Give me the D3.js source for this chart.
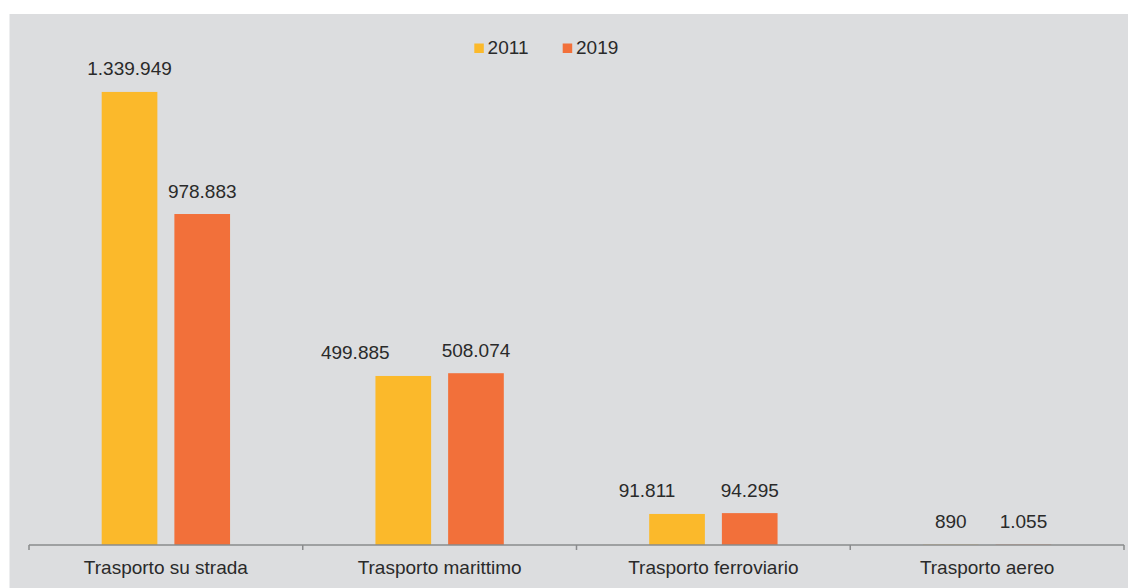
<!DOCTYPE html>
<html>
<head>
<meta charset="utf-8">
<script src="https://cdn.jsdelivr.net/npm/d3@7"></script>
<style>
  html, body { margin: 0; padding: 0; background: #ffffff; }
  svg { display: block; }
  text { font-family: "Liberation Sans", Arial, sans-serif; fill: #2a2a2a; }
</style>
</head>
<body>
<svg id="chart" width="1128" height="588"></svg>
<script>
// Categories and series
const categories = ["Trasporto su strada", "Trasporto marittimo", "Trasporto ferroviario", "Trasporto aereo"];
const seriesNames = ["2011", "2019"];
const values2011 = [1339949, 499885, 91811, 890];
const values2019 = [978883, 508074, 94295, 1055];

// Styling
const colors = { "2011": "#fbb92b", "2019": "#f2703a" };
const fontSize = 19;
// horizontal nudge of the 2011 value labels so they clear their neighbours
const labelShift2011 = [0, -48, -30, 0];

const fmt = v => d3.format(",")(v).replace(/,/g, ".");

const svg = d3.select("#chart");
const W = 1128, H = 588;

// panel background
svg.append("rect")
  .attr("x", 9.5).attr("y", 14)
  .attr("width", W - 9.5).attr("height", H - 14)
  .attr("fill", "#dcdddf");

const axisY = 545;
const x0 = d3.scaleBand().domain(categories).range([29, 1124]).paddingInner(0).paddingOuter(0);
const x1 = d3.scaleBand().domain(seriesNames).range([0, x0.bandwidth()]).paddingInner(0.234).paddingOuter(1.0);
const y = d3.scaleLinear().domain([0, 1600000]).range([axisY, 4]);

const rows = categories.map((c, i) => ({
  cat: c, i,
  vals: [
    { s: "2011", v: values2011[i], shift: labelShift2011[i] },
    { s: "2019", v: values2019[i], shift: 0 }
  ]
}));

const g = svg.append("g");
const groups = g.selectAll("g.cat").data(rows).join("g")
  .attr("class", "cat")
  .attr("transform", d => `translate(${x0(d.cat)},0)`);

groups.selectAll("rect").data(d => d.vals).join("rect")
  .attr("x", d => x1(d.s))
  .attr("width", x1.bandwidth())
  .attr("y", d => y(d.v))
  .attr("height", d => axisY - y(d.v))
  .attr("fill", d => colors[d.s]);

groups.selectAll("text.val").data(d => d.vals).join("text")
  .attr("class", "val")
  .attr("x", d => x1(d.s) + x1.bandwidth() / 2 + d.shift)
  .attr("y", d => y(d.v) - 16.5)
  .attr("text-anchor", "middle")
  .attr("font-size", fontSize)
  .text(d => fmt(d.v));

// category axis: baseline with boundary ticks between categories
const axisColor = "#8a8b8d";
const bounds = categories.map(c => x0(c)).concat([x0.range()[1]]);
svg.append("line")
  .attr("x1", bounds[0]).attr("x2", bounds[bounds.length - 1])
  .attr("y1", axisY).attr("y2", axisY)
  .attr("stroke", axisColor).attr("stroke-width", 1.5);
svg.selectAll("line.tick").data(bounds).join("line")
  .attr("class", "tick")
  .attr("x1", d => d).attr("x2", d => d)
  .attr("y1", axisY).attr("y2", axisY + 5)
  .attr("stroke", axisColor).attr("stroke-width", 1.5);

svg.selectAll("text.cat").data(categories).join("text")
  .attr("class", "cat")
  .attr("x", d => x0(d) + x0.bandwidth() / 2)
  .attr("y", 574)
  .attr("text-anchor", "middle")
  .attr("font-size", fontSize)
  .text(d => d);

// legend
const legendItems = [
  { s: "2011", x: 474.3 },
  { s: "2019", x: 562.7 }
];
const lg = svg.append("g");
legendItems.forEach(it => {
  lg.append("rect")
    .attr("x", it.x).attr("y", 43.5)
    .attr("width", 9.5).attr("height", 9.5)
    .attr("fill", colors[it.s]);
  lg.append("text")
    .attr("x", it.x + 13.3).attr("y", 54)
    .attr("font-size", fontSize)
    .text(it.s);
});
</script>
</body>
</html>
